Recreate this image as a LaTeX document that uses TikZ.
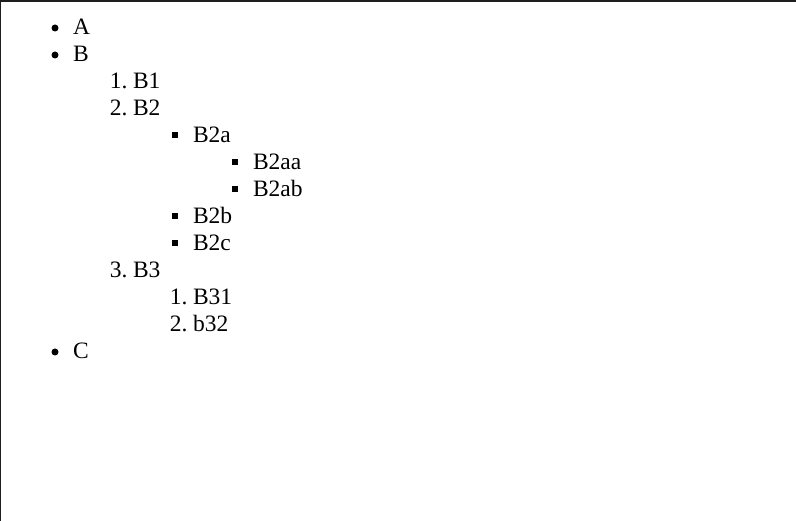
\documentclass[tikz,border=0pt]{standalone}
\usepackage{fontspec}
\setmainfont{Liberation Serif}
\usepackage{tikz}
\usetikzlibrary{positioning}
\definecolor{myframe}{RGB}{30,30,30}
\tikzset{
  itemtext/.style={draw=none,outer sep=0,inner sep=0,anchor=base west,
    font=\fontsize{23.5}{27}\selectfont},
  itemnum/.style={draw=none,outer sep=0,inner sep=0,anchor=base east,
    font=\fontsize{23.5}{27}\selectfont},
  disc/.style={circle,fill=black,draw=none,inner sep=0,minimum size=7},
  squarebullet/.style={rectangle,fill=black,draw=none,inner sep=0,minimum size=6}
}
\begin{document}
\begin{tikzpicture}[x=1pt,y=-1pt]
\useasboundingbox (0,0) rectangle (796,521);

\draw[line width=2, color=myframe] (0,1) -- (796,1);
\draw[line width=1.2, color=myframe] (0.6,0) -- (0.6,521);

\node [itemtext] (itemA) at (73,35) {A};
\node [disc] (dotA) at (55,28) {};
\node [itemtext] (itemB) at (73,62) {B};
\node [disc] (dotB) at (55,55) {};

\node [itemnum] (numBone) at (127.5,89) {1.};
\node [itemtext] (itemBone) at (133,89) {B1};
\node [itemnum] (numBtwo) at (127.5,116) {2.};
\node [itemtext] (itemBtwo) at (133,116) {B2};

\node [squarebullet] (sqBtwoa) at (174.5,135.5) {};
\node [itemtext] (itemBtwoa) at (193,143) {B2a};
\node [squarebullet] (sqBtwoaa) at (234.5,162.5) {};
\node [itemtext] (itemBtwoaa) at (253,170) {B2aa};
\node [squarebullet] (sqBtwoab) at (234.5,189.5) {};
\node [itemtext] (itemBtwoab) at (253,197) {B2ab};
\node [squarebullet] (sqBtwob) at (174.5,216.5) {};
\node [itemtext] (itemBtwob) at (193,224) {B2b};
\node [squarebullet] (sqBtwoc) at (174.5,243.5) {};
\node [itemtext] (itemBtwoc) at (193,251) {B2c};

\node [itemnum] (numBthree) at (127.5,278) {3.};
\node [itemtext] (itemBthree) at (133,278) {B3};
\node [itemnum] (numBthreeone) at (187.5,305) {1.};
\node [itemtext] (itemBthreeone) at (193,305) {B31};
\node [itemnum] (numBthreetwo) at (187.5,332) {2.};
\node [itemtext] (itemBthreetwo) at (193,332) {b32};

\node [itemtext] (itemC) at (73,359) {C};
\node [disc] (dotC) at (55,352) {};

\end{tikzpicture}
\end{document}
